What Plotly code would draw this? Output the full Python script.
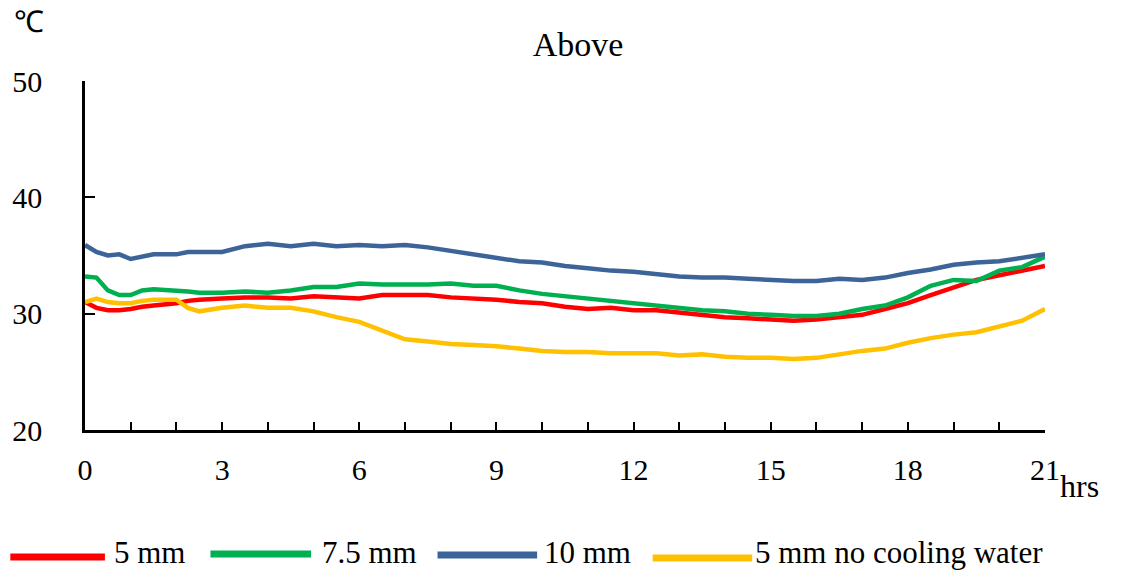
import plotly.graph_objects as go

# ---- data ----
hours = [0, 0.25, 0.5, 0.75, 1, 1.25, 1.5, 2, 2.25, 2.5,
         3, 3.5, 4, 4.5, 5, 5.5, 6, 6.5, 7, 7.5, 8, 8.5, 9, 9.5, 10, 10.5,
         11, 11.5, 12, 12.5, 13, 13.5, 14, 14.5, 15, 15.5, 16, 16.5, 17, 17.5,
         18, 18.5, 19, 19.5, 20, 20.5, 21]

temp_5mm = [31.0, 30.5, 30.3, 30.3, 30.4, 30.6, 30.7, 30.9, 31.1, 31.2,
            31.3, 31.4, 31.4, 31.3, 31.5, 31.4, 31.3, 31.6, 31.6, 31.6, 31.4, 31.3, 31.2, 31.0, 30.9, 30.6,
            30.4, 30.5, 30.3, 30.3, 30.1, 29.9, 29.7, 29.6, 29.5, 29.4, 29.5, 29.7, 29.9, 30.4,
            30.9, 31.6, 32.2, 32.9, 33.3, 33.7, 34.1]

temp_7_5mm = [33.2, 33.1, 32.0, 31.6, 31.6, 32.0, 32.1, 32.0, 31.9, 31.8,
              31.8, 31.9, 31.8, 32.0, 32.3, 32.3, 32.6, 32.5, 32.5, 32.5, 32.6, 32.4, 32.4, 32.0, 31.7, 31.5,
              31.3, 31.1, 30.9, 30.7, 30.5, 30.3, 30.2, 30.0, 29.9, 29.8, 29.8, 30.0, 30.4, 30.7,
              31.4, 32.4, 32.9, 32.8, 33.7, 34.0, 34.9]

temp_10mm = [35.9, 35.3, 35.0, 35.1, 34.7, 34.9, 35.1, 35.1, 35.3, 35.3,
             35.3, 35.8, 36.0, 35.8, 36.0, 35.8, 35.9, 35.8, 35.9, 35.7, 35.4, 35.1, 34.8, 34.5, 34.4, 34.1,
             33.9, 33.7, 33.6, 33.4, 33.2, 33.1, 33.1, 33.0, 32.9, 32.8, 32.8, 33.0, 32.9, 33.1,
             33.5, 33.8, 34.2, 34.4, 34.5, 34.8, 35.1]

temp_no_cooling = [31.0, 31.3, 31.0, 30.9, 30.9, 31.1, 31.2, 31.2, 30.5, 30.2,
                   30.5, 30.7, 30.5, 30.5, 30.2, 29.7, 29.3, 28.6, 27.8, 27.6, 27.4, 27.3, 27.2, 27.0, 26.8, 26.7,
                   26.7, 26.6, 26.6, 26.6, 26.4, 26.5, 26.3, 26.2, 26.2, 26.1, 26.2, 26.5, 26.8, 27.0,
                   27.5, 27.9, 28.2, 28.4, 28.9, 29.4, 30.4]

series_names = ["5 mm", "7.5 mm", "10 mm", "5 mm no cooling water"]
series_values = [temp_5mm, temp_7_5mm, temp_10mm, temp_no_cooling]
series_colors = ["#FF0000", "#00B050", "#3C6499", "#FFC000"]

x_tick_values = [0, 3, 6, 9, 12, 15, 18, 21]
y_tick_values = [20, 30, 40, 50]

# ---- layout geometry (pixels) ----
W, H = 1122, 578
L, R, T, B = 81, 77, 81, 148
PW, PH = W - L - R, H - T - B


def px_x(px):
    return (px - L) / PW


def px_y(py):
    return (H - B - py) / PH


FONT = "Liberation Serif"

fig = go.Figure()
for name, vals, col in zip(series_names, series_values, series_colors):
    fig.add_trace(go.Scatter(x=hours, y=vals, mode="lines", name=name,
                             line=dict(color=col, width=4.5), showlegend=False))

# custom legend with long line samples
legend_line_px = [(6, 101, 557), (207, 308, 554), (435, 535, 555), (651, 751, 558)]
legend_text_px = [108, 317, 540, 752]
for (x0, x1, yy), tx, name, col in zip(legend_line_px, legend_text_px, series_names, series_colors):
    fig.add_shape(type="line", xref="paper", yref="paper",
                  x0=px_x(x0), x1=px_x(x1), y0=px_y(yy), y1=px_y(yy),
                  line=dict(color=col, width=7))
    fig.add_annotation(text=name, xref="paper", yref="paper", x=px_x(tx), y=px_y(552),
                       xanchor="left", yanchor="middle", showarrow=False,
                       font=dict(family=FONT, size=31, color="black"))

# unit labels
fig.add_annotation(text="℃", xref="paper", yref="paper", x=px_x(8), y=px_y(22),
                   xanchor="left", yanchor="middle", showarrow=False,
                   font=dict(family=FONT, size=30, color="black"))
fig.add_annotation(text="hrs", xref="paper", yref="paper", x=px_x(1058), y=px_y(486),
                   xanchor="left", yanchor="middle", showarrow=False,
                   font=dict(family=FONT, size=32, color="black"))

fig.update_layout(
    width=W, height=H,
    margin=dict(l=L, r=R, t=T, b=B),
    paper_bgcolor="white", plot_bgcolor="white",
    title=dict(text="Above", x=578 / W, xanchor="center", y=1 - 44 / H, yanchor="middle",
               font=dict(family=FONT, size=34, color="black")),
    font=dict(family=FONT, color="black"),
)
fig.update_xaxes(range=[0, 21], tickvals=x_tick_values, showgrid=False, zeroline=False,
                 showline=True, linecolor="black", linewidth=2.5,
                 ticks="inside", ticklen=8, tickwidth=2, tickcolor="black",
                 minor=dict(dtick=1, ticks="inside", ticklen=8, tickwidth=2, tickcolor="black", showgrid=False),
                 tickfont=dict(family=FONT, size=30, color="black"), ticklabelstandoff=11)
fig.update_yaxes(range=[20, 50], tickvals=y_tick_values, showgrid=False, zeroline=False,
                 showline=True, linecolor="black", linewidth=2.5,
                 ticks="inside", ticklen=10, tickwidth=2, tickcolor="black",
                 tickfont=dict(family=FONT, size=30, color="black"), ticklabelstandoff=34)

fig.write_html("out.html")
